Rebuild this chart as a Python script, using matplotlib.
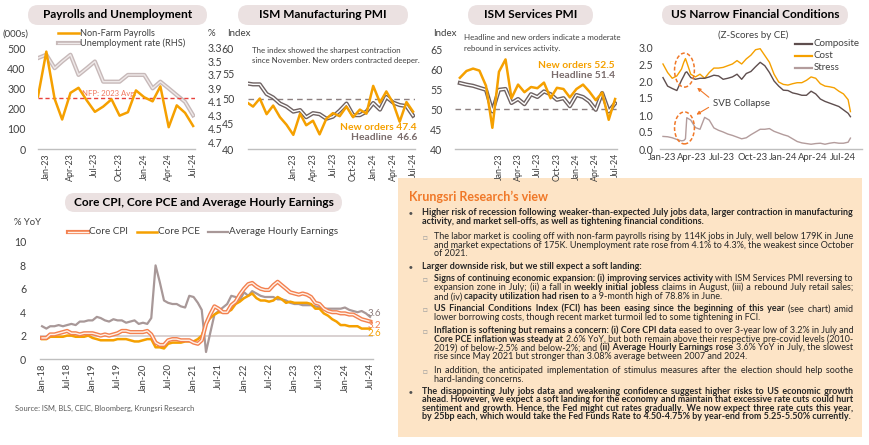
import numpy as np
import pandas as pd
import matplotlib
matplotlib.use('Agg')
import matplotlib.pyplot as plt
import matplotlib.dates as mdates
from matplotlib.patches import FancyBboxPatch, Ellipse, Rectangle, FancyArrowPatch
from matplotlib.lines import Line2D

# ---------------- data ----------------
nfp_months = pd.date_range('2022-12-01', '2024-07-01', freq='MS')
nfp = [260, 482, 248, 146, 278, 303, 240, 184, 210, 246, 165, 182, 290, 256, 236, 310, 108, 216, 179, 114]
unemp = [3.45, 3.4, 3.6, 3.5, 3.4, 3.7, 3.6, 3.5, 3.8, 3.8, 3.8, 3.7, 3.7, 3.7, 3.9, 3.8, 3.9, 4.0, 4.1, 4.3]
nfp_avg_2023 = 251
unemp_ticks = [3.3, 3.5, 3.7, 3.9, 4.1, 4.3, 4.5, 4.7]

ism_m_months = pd.date_range('2022-06-01', '2024-07-01', freq='MS')
ism_m_headline = [53.0, 52.8, 52.8, 50.9, 50.2, 49.0, 48.4, 47.4, 47.7, 46.3, 47.1, 46.9, 46.0,
                  46.4, 47.6, 49.0, 46.7, 46.7, 47.4, 49.1, 47.8, 50.3, 49.2, 48.7, 48.5, 46.6]
ism_m_neworders = [49.3, 48.4, 50.0, 46.9, 48.6, 46.3, 44.8, 42.8, 47.0, 44.7, 45.6, 42.9, 46.0,
                   47.1, 46.5, 48.4, 46.3, 47.8, 47.0, 52.5, 49.2, 51.4, 49.1, 45.4, 49.3, 47.4]

ism_s_months = pd.date_range('2022-07-01', '2024-07-01', freq='MS')
ism_s_headline = [56.5, 56.1, 55.8, 55.3, 54.8, 49.4, 54.8, 55.0, 51.5, 52.5, 51.2, 53.7, 53.0,
                  54.4, 53.7, 52.3, 52.7, 50.7, 53.5, 53.0, 51.9, 49.8, 54.0, 49.4, 51.4]
ism_s_neworders = [57.8, 59.5, 60.1, 59.6, 55.8, 45.3, 59.3, 62.4, 52.7, 56.1, 54.2, 55.5, 55.2,
                   56.6, 52.7, 55.3, 55.0, 52.9, 55.0, 56.1, 54.4, 52.2, 54.1, 47.3, 52.5]

fci_dates = pd.to_datetime([
    '2023-01-04', '2023-01-18', '2023-02-01', '2023-02-15', '2023-03-01', '2023-03-08', '2023-03-13',
    '2023-03-17', '2023-03-29', '2023-04-12', '2023-04-26', '2023-05-10', '2023-05-24', '2023-06-07',
    '2023-06-21', '2023-07-05', '2023-07-19', '2023-08-02', '2023-08-16', '2023-08-30', '2023-09-13',
    '2023-09-27', '2023-10-11', '2023-10-25', '2023-11-08', '2023-11-22', '2023-12-06', '2023-12-20',
    '2024-01-03', '2024-01-17', '2024-01-31', '2024-02-14', '2024-02-28', '2024-03-13', '2024-03-27',
    '2024-04-10', '2024-04-24', '2024-05-08', '2024-05-22', '2024-06-05', '2024-06-19', '2024-07-03',
    '2024-07-17', '2024-07-24'])
fci_composite = [2.10, 1.85, 1.78, 1.72, 2.02, 2.15, 2.25, 2.27, 2.10, 2.05, 2.08, 2.08, 2.12, 2.17,
                 2.15, 2.05, 2.08, 2.12, 2.20, 2.05, 2.22, 2.28, 2.42, 2.55, 2.45, 2.25, 2.00, 1.85,
                 1.73, 1.72, 1.65, 1.62, 1.58, 1.58, 1.70, 1.62, 1.47, 1.40, 1.35, 1.30, 1.25, 1.15,
                 1.05, 0.95]
fci_cost = [2.50, 2.25, 2.08, 2.15, 2.35, 2.55, 2.66, 2.55, 2.20, 2.12, 2.20, 2.08, 2.25, 2.38,
            2.38, 2.40, 2.45, 2.50, 2.60, 2.50, 2.65, 2.76, 2.92, 2.95, 2.75, 2.55, 2.20, 1.97,
            1.90, 1.88, 1.92, 1.95, 1.95, 2.02, 2.12, 2.08, 1.92, 1.85, 1.83, 1.80, 1.70, 1.62,
            1.45, 1.10]
fci_stress = [0.37, 0.36, 0.33, 0.28, 0.24, 0.25, 0.30, 0.92, 0.85, 0.63, 0.58, 0.93, 0.85, 0.62,
              0.55, 0.50, 0.44, 0.40, 0.35, 0.30, 0.33, 0.42, 0.50, 0.58, 0.58, 0.60, 0.52, 0.47,
              0.42, 0.38, 0.30, 0.22, 0.18, 0.16, 0.14, 0.16, 0.17, 0.14, 0.17, 0.19, 0.17, 0.17,
              0.20, 0.32]

infl_months = pd.date_range('2018-01-01', '2024-07-01', freq='MS')
core_cpi = [1.8, 1.8, 2.1, 2.1, 2.2, 2.3, 2.4, 2.2, 2.2, 2.1, 2.2, 2.2,
            2.2, 2.1, 2.0, 2.1, 2.0, 2.1, 2.2, 2.4, 2.4, 2.3, 2.3, 2.3,
            2.3, 2.4, 2.1, 1.4, 1.2, 1.2, 1.6, 1.7, 1.7, 1.6, 1.6, 1.6,
            1.4, 1.3, 1.6, 3.0, 3.8, 4.5, 4.3, 4.0, 4.0, 4.6, 4.9, 5.5,
            6.0, 6.4, 6.5, 6.2, 6.0, 5.9, 5.9, 6.3, 6.6, 6.3, 6.0, 5.7,
            5.6, 5.5, 5.6, 5.5, 5.3, 4.8, 4.7, 4.3, 4.1, 4.0, 4.0, 3.9,
            3.9, 3.8, 3.8, 3.6, 3.4, 3.3, 3.2]
core_pce = [1.7, 1.7, 1.9, 1.9, 1.9, 1.9, 2.0, 2.0, 1.9, 1.9, 1.9, 2.0,
            1.8, 1.7, 1.6, 1.6, 1.6, 1.6, 1.7, 1.7, 1.7, 1.6, 1.5, 1.5,
            1.6, 1.7, 1.7, 1.0, 1.0, 0.9, 1.3, 1.4, 1.4, 1.4, 1.5, 1.5,
            1.5, 1.7, 2.0, 3.0, 3.5, 3.8, 4.0, 4.0, 4.0, 4.2, 4.7, 4.9,
            5.2, 5.4, 5.6, 5.2, 5.0, 5.0, 4.9, 5.0, 5.3, 5.1, 4.8, 4.9,
            4.8, 4.8, 4.8, 4.8, 4.7, 4.3, 4.3, 3.9, 3.7, 3.4, 3.2, 2.9,
            2.9, 2.8, 2.8, 2.8, 2.6, 2.6, 2.6]
ahe = [2.8, 2.6, 2.8, 2.8, 2.9, 2.8, 2.9, 3.0, 2.9, 3.2, 3.2, 3.3,
       3.3, 3.6, 3.5, 3.3, 3.2, 3.4, 3.3, 3.3, 3.1, 3.2, 3.3, 3.0,
       3.1, 3.0, 3.5, 8.0, 6.6, 5.0, 4.8, 4.7, 4.7, 4.5, 4.4, 5.4,
       5.3, 4.8, 4.2, 0.6, 2.2, 3.8, 4.1, 4.4, 4.7, 5.4, 5.3, 5.0,
       5.7, 5.4, 5.8, 5.6, 5.4, 5.3, 5.3, 5.3, 5.1, 5.1, 5.0, 4.8,
       4.7, 4.7, 4.6, 4.6, 4.6, 4.5, 4.4, 4.3, 4.3, 4.3, 4.3, 4.3,
       4.4, 4.2, 4.1, 4.0, 4.1, 3.9, 3.6]

# ---------------- style ----------------
W, H = 870, 445
ORANGE = '#f5a000'
SALMON = '#f3804f'
DARK = '#404040'
PILL = '#ebe1e1'
FAM = ['Lato', 'DejaVu Sans']
plt.rcParams['font.family'] = FAM

fig = plt.figure(figsize=(W / 100, H / 100), dpi=100)
fig.patch.set_facecolor('white')


def fx(x):
    return x / W


def fy(y):
    return 1 - y / H


def add_ax(x0, y0, x1, y1):
    return fig.add_axes([fx(x0), fy(y1), (x1 - x0) / W, (y1 - y0) / H])


def style(ax, rot=90, xsize=6.4, ysize=7.6, ypad=8):
    for s in ['left', 'right', 'top']:
        ax.spines[s].set_visible(False)
    ax.spines['bottom'].set_color('#bfbfbf')
    ax.spines['bottom'].set_linewidth(1)
    ax.tick_params(length=0, colors=DARK)
    ax.tick_params(axis='x', labelsize=xsize, labelrotation=rot, pad=3)
    ax.tick_params(axis='y', labelsize=ysize, pad=ypad)
    ax.patch.set_alpha(0)


def pill(x0, y0, x1, y1, text, size=8.6):
    r = (y1 - y0) / 2
    p = FancyBboxPatch((fx(x0), fy(y1)), (x1 - x0) / W, (y1 - y0) / H,
                       boxstyle=f"round,pad=0,rounding_size={r / W}", mutation_aspect=W / H,
                       transform=fig.transFigure, facecolor=PILL, edgecolor='none')
    fig.add_artist(p)
    fig.text(fx((x0 + x1) / 2), fy((y0 + y1) / 2), text, ha='center', va='center',
             fontsize=size, fontweight='bold', color='black')


def double_line(ax, x, y, outer, inner, lw=3.2, ilw=1.0, z=3):
    ax.plot(x, y, color=outer, lw=lw, zorder=z, solid_joinstyle='round')
    ax.plot(x, y, color=inner, lw=ilw, zorder=z + 0.1, solid_joinstyle='round')


def legend_line(x0, x1, y, color, lw=2, inner=None, ilw=1.0):
    fig.add_artist(Line2D([fx(x0), fx(x1)], [fy(y), fy(y)], color=color, lw=lw, transform=fig.transFigure))
    if inner:
        fig.add_artist(Line2D([fx(x0), fx(x1)], [fy(y), fy(y)], color=inner, lw=ilw, transform=fig.transFigure))


def ftext(x, y, s, **kw):
    kw.setdefault('fontsize', 7)
    kw.setdefault('color', DARK)
    kw.setdefault('va', 'center')
    return fig.text(fx(x), fy(y), s, **kw)


quarter = mdates.MonthLocator(bymonth=[1, 4, 7, 10])
fmt = mdates.DateFormatter('%b-%y')

# ---------------- panel 1: payrolls ----------------
pill(28, 5, 207, 25, 'Payrolls and Unemployment')
ax1 = add_ax(38, 48, 195, 149)
ax1b = ax1.twinx()
ax1.plot(nfp_months, nfp, color=ORANGE, lw=1.8, zorder=4)
ax1.axhline(nfp_avg_2023, color='#e8413c', lw=1, ls=(0, (3, 2)), zorder=2)
ax1.text(pd.Timestamp('2023-05-15'), nfp_avg_2023 + 8, 'NFP: 2023 Avg.', color='#f07860', fontsize=5.6, va='bottom')
double_line(ax1b, nfp_months, unemp, '#c7b9b9', '#efe9e9', lw=3.0, ilw=1.0, z=2)
ax1.set_ylim(0, 500)
ax1.set_yticks([0, 100, 200, 300, 400, 500])
ax1b.set_ylim(4.8, 3.3)
ax1b.set_yticks(unemp_ticks)
ax1b.set_yticklabels([f'{v:.1f}' for v in unemp_ticks])
ax1.set_xlim(pd.Timestamp('2022-12-01'), pd.Timestamp('2024-07-08'))
for a in (ax1, ax1b):
    style(a, ypad=9)
    a.xaxis.set_major_locator(quarter)
    a.xaxis.set_major_formatter(fmt)
ax1b.spines['bottom'].set_visible(False)
ax1.set_zorder(ax1b.get_zorder() + 1)
ftext(3, 34, '(000s)')
ftext(208, 34, '%')
legend_line(58, 79, 33, ORANGE, lw=1.8)
ftext(80, 33, 'Non-Farm Payrolls', fontsize=6.6)
legend_line(58, 79, 43, '#c7b9b9', lw=3.0, inner='#efe9e9')
ftext(80, 43, 'Unemployment rate (RHS)', fontsize=6.6)

# ---------------- panel 2: ISM manufacturing ----------------
pill(238, 5, 408, 25, 'ISM Manufacturing PMI')
ax2 = add_ax(248, 48, 415, 149)
ax2.axhline(50, color='#8c8080', lw=1, ls=(0, (4, 3)), zorder=1)
double_line(ax2, ism_m_months, ism_m_headline, '#6e6262', '#ffffff', lw=3.0, ilw=1.0, z=2)
ax2.plot(ism_m_months, ism_m_neworders, color=ORANGE, lw=1.8, zorder=4)
ax2.set_ylim(40, 60)
ax2.set_yticks([40, 45, 50, 55, 60])
ax2.set_xlim(pd.Timestamp('2022-06-08'), pd.Timestamp('2024-07-10'))
style(ax2, ypad=10)
ax2.xaxis.set_major_locator(quarter)
ax2.xaxis.set_major_formatter(fmt)
ftext(227, 34, 'Index')
ftext(252, 50, 'The index showed the sharpest contraction', fontsize=5.7)
ftext(252, 60, 'since November. New orders contracted deeper.', fontsize=5.7)
ftext(417, 127, f'New orders {ism_m_neworders[-1]}', fontsize=7.4, fontweight='bold', color=ORANGE, ha='right')
ftext(417, 138, f'Headline  {ism_m_headline[-1]}', fontsize=7.4, fontweight='bold', color='#7a6c6c', ha='right')

# ---------------- panel 3: ISM services ----------------
pill(468, 5, 593, 25, 'ISM Services PMI')
ax3 = add_ax(455, 49, 617, 149)
ax3.axhline(50, color='#8c8080', lw=1, ls=(0, (4, 3)), zorder=1)
double_line(ax3, ism_s_months, ism_s_headline, '#6e6262', '#ffffff', lw=3.0, ilw=1.0, z=2)
ax3.plot(ism_s_months, ism_s_neworders, color=ORANGE, lw=1.8, zorder=4)
ax3.set_ylim(40, 65)
ax3.set_yticks([40, 45, 50, 55, 60, 65])
ax3.set_xlim(pd.Timestamp('2022-06-08'), pd.Timestamp('2024-07-10'))
style(ax3, ypad=9)
ax3.xaxis.set_major_locator(quarter)
ax3.xaxis.set_major_formatter(fmt)
ftext(433, 34, 'Index')
ftext(464, 38, 'Headline and new orders indicate a moderate', fontsize=5.7)
ftext(464, 48, 'rebound in services activity.', fontsize=5.7)
ftext(615, 66, f'New orders {ism_s_neworders[-1]}', fontsize=7.4, fontweight='bold', color=ORANGE, ha='right')
ftext(615, 76, f'Headline {ism_s_headline[-1]}', fontsize=7.4, fontweight='bold', color='#7a6c6c', ha='right')

# ---------------- panel 4: financial conditions ----------------
pill(662, 5, 848, 25, 'US Narrow Financial Conditions')
ax4 = add_ax(660, 47, 862, 149)
ax4.plot(fci_dates, fci_stress, color='#b39c9c', lw=1.0, zorder=2)
ax4.plot(fci_dates, fci_cost, color=ORANGE, lw=1.0, zorder=3)
ax4.plot(fci_dates, fci_composite, color='#5e4e4e', lw=1.0, zorder=4)
ax4.set_ylim(0, 3.0)
ax4.set_yticks([0, 0.5, 1.0, 1.5, 2.0, 2.5, 3.0])
ax4.set_yticklabels([f'{v:.1f}' for v in [0, 0.5, 1.0, 1.5, 2.0, 2.5, 3.0]])
ax4.set_xlim(pd.Timestamp('2022-12-26'), pd.Timestamp('2024-08-28'))
style(ax4, rot=0, xsize=6.8, ypad=5)
ax4.xaxis.set_major_locator(quarter)
ax4.xaxis.set_major_formatter(fmt)
svb = pd.Timestamp('2023-03-10')
for cy, hh in [(2.32, 1.0), (0.62, 0.94)]:
    ax4.add_patch(Ellipse((mdates.date2num(svb), cy), 60, hh, fill=False, edgecolor='#f07828',
                          lw=1.1, ls=(0, (2.5, 1.5)), zorder=6))
ftext(753, 35, '(Z-Scores by CE)', ha='center')
ftext(713, 103, 'SVB Collapse', fontsize=7)
for (xa, ya), (xb, yb) in [((711, 99), (695, 86)), ((711, 106), (694, 116))]:
    fig.add_artist(FancyArrowPatch((fx(xa), fy(ya)), (fx(xb), fy(yb)), transform=fig.transFigure,
                                   arrowstyle='-|>', mutation_scale=5, color='#f07828', lw=0.8))
for yy, col, lab in [(44, '#5e4e4e', 'Composite'), (56, ORANGE, 'Cost'), (68, '#b39c9c', 'Stress')]:
    legend_line(795, 812, yy, col, lw=1.6)
    ftext(814, yy, lab, fontsize=7)

# ---------------- panel 5: inflation ----------------
pill(65, 193, 342, 212, 'Core CPI, Core PCE and Average Hourly Earnings')
ax5 = add_ax(40, 242, 373, 359)
ax5.axhline(2, color='#d3caca', lw=1.2, zorder=1)
ax5.plot(infl_months, ahe, color='#a89898', lw=1.6, zorder=2)
ax5.plot(infl_months, core_pce, color=ORANGE, lw=1.8, zorder=3)
double_line(ax5, infl_months, core_cpi, SALMON, '#fff1e8', lw=3.0, ilw=1.0, z=4)
ax5.set_ylim(0, 10)
ax5.set_yticks([0, 2, 4, 6, 8, 10])
ax5.set_xlim(pd.Timestamp('2017-12-17'), pd.Timestamp('2024-07-22'))
style(ax5, xsize=6.8, ysize=7.6, ypad=10)
ax5.xaxis.set_major_locator(mdates.MonthLocator(bymonth=[1, 7]))
ax5.xaxis.set_major_formatter(fmt)
ftext(14, 222, '% YoY', fontsize=6.8)
legend_line(68, 88, 232, SALMON, lw=3.0, inner='#fff1e8')
ftext(89, 232, 'Core CPI', fontsize=7.2)
legend_line(137, 157, 232, ORANGE, lw=1.8)
ftext(158, 232, 'Core PCE', fontsize=7.2)
legend_line(208, 228, 232, '#a89898', lw=1.6)
ftext(229, 232, 'Average Hourly Earnings', fontsize=7.2)
ftext(368, 313, f'{ahe[-1]}', fontsize=7, color='#8b7b7b')
ftext(368, 325, f'{core_cpi[-1]}', fontsize=7, color=SALMON)
ftext(368, 333, f'{core_pce[-1]}', fontsize=7, color=ORANGE)
ftext(15, 408, 'Source: ISM, BLS, CEIC, Bloomberg, Krungsri Research', fontsize=5.4, color='#595959')

# ---------------- text box ----------------
fig.add_artist(Rectangle((fx(398), fy(437)), (862 - 398) / W, (437 - 178) / H, transform=fig.transFigure,
                         facecolor='#fde4c6', edgecolor='none', zorder=0))
ftext(409, 197, "Krungsri Research\u2019s view", fontsize=9, fontweight='bold', color='#f07828')

FS = 6.5
RIGHT = 853
TXT = '#262626'
HAIR = '\u200a'
view_lines = [
    (1, True, 213, [("Higher risk of recession following weaker-than-expected July jobs data, larger contraction in manufacturing", True)], True),
    (1, False, 222, [("activity, and market sell-offs, as well as tightening financial conditions.", True)], False),
    (2, True, 237, [("The labor market is cooling off with non-farm payrolls rising by 114K jobs in July, well below 179K in June", False)], True),
    (2, False, 246, [("and market expectations of 175K. Unemployment rate rose from 4.1% to 4.3%, the weakest since October", False)], True),
    (2, False, 254, [("of 2021.", False)], False),
    (1, True, 267, [("Larger downside risk, but we still expect a soft landing:", True)], False),
    (2, True, 279, [("Signs of continuing economic expansion: (i) improving services activity", True), ("with ISM Services PMI reversing to", False)], True),
    (2, False, 288, [("expansion zone in July; (ii) a fall in", False), ("weekly initial jobless", True), ("claims in August, (iii) a rebound July retail sales;", False)], True),
    (2, False, 297, [("and (iv)", False), ("capacity utilization had risen to", True), ("a 9-month high of 78.8% in June.", False)], False),
    (2, True, 309, [("US Financial Conditions Index (FCI) has been easing since the beginning of this year", True), ("(see chart) amid", False)], True),
    (2, False, 318, [("lower borrowing costs, though recent market turmoil led to some tightening in FCI.", False)], False),
    (2, True, 331, [("Inflation is softening but remains a concern: (i) Core CPI data", True), ("eased to over 3-year low of 3.2% in July and", False)], True),
    (2, False, 340, [("Core PCE inflation was steady at", True), ("2.6% YoY, but both remain above their respective pre-covid levels (2010-", False)], True),
    (2, False, 348, [("2019) of below-2.5% and below-2%; and", False), ("(ii) Average Hourly Earnings rose", True), ("3.6% YoY in July, the slowest", False)], True),
    (2, False, 357, [("rise since May 2021 but stronger than 3.08% average between 2007 and 2024.", False)], False),
    (2, True, 371, [("In addition, the anticipated implementation of stimulus measures after the election should help soothe", False)], True),
    (2, False, 380, [("hard-landing concerns.", False)], False),
    (1, True, 392, [("The disappointing July jobs data and weakening confidence suggest higher risks to US economic growth", True)], True),
    (1, False, 400, [("ahead. However, we expect a soft landing for the economy and maintain that excessive rate cuts could hurt", True)], True),
    (1, False, 409, [("sentiment and growth. Hence, the Fed might cut rates gradually. We now expect three rate cuts this year,", True)], True),
    (1, False, 417, [("by 25bp each, which would take the Fed Funds Rate to 4.50-4.75% by year-end from 5.25-5.50% currently.", True)], False),
]

renderer = fig.canvas.get_renderer()


def measure(s, fs, bold):
    t = fig.text(0, 0, s, fontsize=fs, fontweight='bold' if bold else 'normal')
    w = t.get_window_extent(renderer).width
    t.remove()
    return w


def space_width(fs, bold, ch=' '):
    return (measure('x' + ch * 10 + 'x', fs, bold) - measure('xx', fs, bold)) / 10


for level, bullet, yc, segs, justify in view_lines:
    yb = yc + 2.4
    x0 = 422 if level == 1 else 434
    if bullet:
        if level == 1:
            ftext(411, yc, '\u25cf', fontsize=4.5, color='#505050', ha='center')
        else:
            ftext(425, yc, '\u25a1', fontsize=5.5, color='#a0a0a0', ha='center')
    fs = FS
    run_words = [s.split() for s, b in segs]
    natural = sum(measure(' '.join(ws), fs, b) for ws, (s, b) in zip(run_words, segs))
    natural += (len(segs) - 1) * space_width(fs, False)
    target = RIGHT - x0
    if natural > target:
        fs = FS * target / natural * 0.995
        justify = True
    sp = space_width(fs, False)
    hw = max(space_width(fs, False, HAIR), 0.3)
    n_gaps = sum(len(ws) for ws in run_words) - 1
    per_gap = 0.0
    if justify and n_gaps > 0:
        natural = sum(measure(' '.join(ws), fs, b) for ws, (s, b) in zip(run_words, segs))
        natural += (len(segs) - 1) * sp
        per_gap = max(target - natural, 0) / n_gaps
    # hair spaces per gap, spread evenly
    counts = [int(round((i + 1) * per_gap / hw)) - int(round(i * per_gap / hw)) for i in range(max(n_gaps, 0))]
    gi = 0
    x = x0
    for ri, (ws, (s, b)) in enumerate(zip(run_words, segs)):
        parts = [ws[0]]
        for w in ws[1:]:
            parts.append(' ' + HAIR * counts[gi] + w)
            gi += 1
        txt = ''.join(parts)
        t = fig.text(fx(x), fy(yb), txt, fontsize=fs, fontweight='bold' if b else 'normal',
                     color=TXT, va='baseline', ha='left')
        x += t.get_window_extent(renderer).width
        if ri < len(segs) - 1:
            x += sp + hw * counts[gi]
            gi += 1

fig.savefig('out.png', dpi=100, facecolor='white')
